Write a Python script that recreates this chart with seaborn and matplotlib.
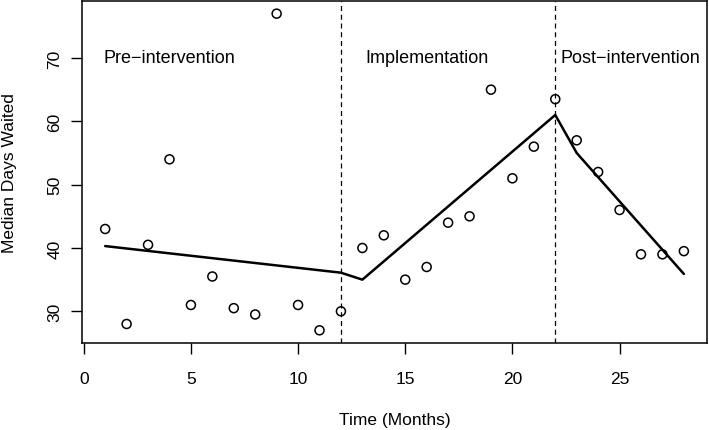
import numpy as np
import pandas as pd
import matplotlib
matplotlib.use('Agg')
import matplotlib.pyplot as plt
import seaborn as sns

# datos observados (mediana de días de espera por mes)
meses = list(range(1, 29))
dias_espera = [43, 28, 40.5, 54, 31, 35.5, 30.5, 29.5, 77, 31, 27, 30,
               40, 42, 35, 37, 44, 45, 65, 51, 56, 63.5,
               57, 52, 46, 39, 39, 39.5]

# recta de regresión segmentada (vértices)
meses_ajuste = [1, 12, 13, 22, 23, 28]
valores_ajuste = [40.3, 36.1, 35.0, 61.0, 55.0, 35.9]

# cortes entre fases
cortes = [12, 22]
fases = ['Pre\u2212intervention', 'Implementation', 'Post\u2212intervention']
fases_x = [4, 16, 25.5]
fases_y = [70, 70, 70]

df = pd.DataFrame({'Mes': meses, 'Dias': dias_espera})
df_ajuste = pd.DataFrame({'Mes': meses_ajuste, 'Ajuste': valores_ajuste})

sns.set_style('ticks')
plt.rcParams['font.family'] = ['Liberation Sans', 'DejaVu Sans']
plt.rcParams['text.color'] = 'black'
plt.rcParams['axes.labelcolor'] = 'black'

fig = plt.figure(figsize=(7.09, 4.31), dpi=100)
ax = fig.add_axes([0.1157, 0.2019, 0.8815, 0.7935])

sns.scatterplot(data=df, x='Mes', y='Dias', ax=ax, marker='o', s=42,
                facecolor='none', edgecolor='black', linewidth=1.1, zorder=3)
sns.lineplot(data=df_ajuste, x='Mes', y='Ajuste', ax=ax, color='black',
             linewidth=1.8, zorder=2)

for c in cortes:
    ax.axvline(c, color='black', linestyle=(0, (4, 3)), linewidth=0.9)

for txt, tx, ty in zip(fases, fases_x, fases_y):
    ax.text(tx, ty, txt, ha='center', va='center', fontsize=13, color='black')

ax.set_xlim(1 - 27 * 0.04, 28 + 27 * 0.04)
ax.set_ylim(27 - 50 * 0.04, 77 + 50 * 0.04)
ax.set_xticks([0, 5, 10, 15, 20, 25])
ax.set_yticks([30, 40, 50, 60, 70])
ax.tick_params(axis='both', direction='out', length=8, width=1, labelsize=12.5,
               color='black', labelcolor='black')
ax.tick_params(axis='x', pad=12)
ax.tick_params(axis='y', pad=6)
for lab in ax.get_yticklabels():
    lab.set_rotation(90)
    lab.set_va('center')

for sp in ax.spines.values():
    sp.set_visible(True)
    sp.set_color('black')
    sp.set_linewidth(1.1)

ax.set_xlabel('Time (Months)', fontsize=12.5, labelpad=19)
ax.set_ylabel('Median Days Waited', fontsize=12.5, labelpad=22)

fig.savefig('out.png', dpi=100)
